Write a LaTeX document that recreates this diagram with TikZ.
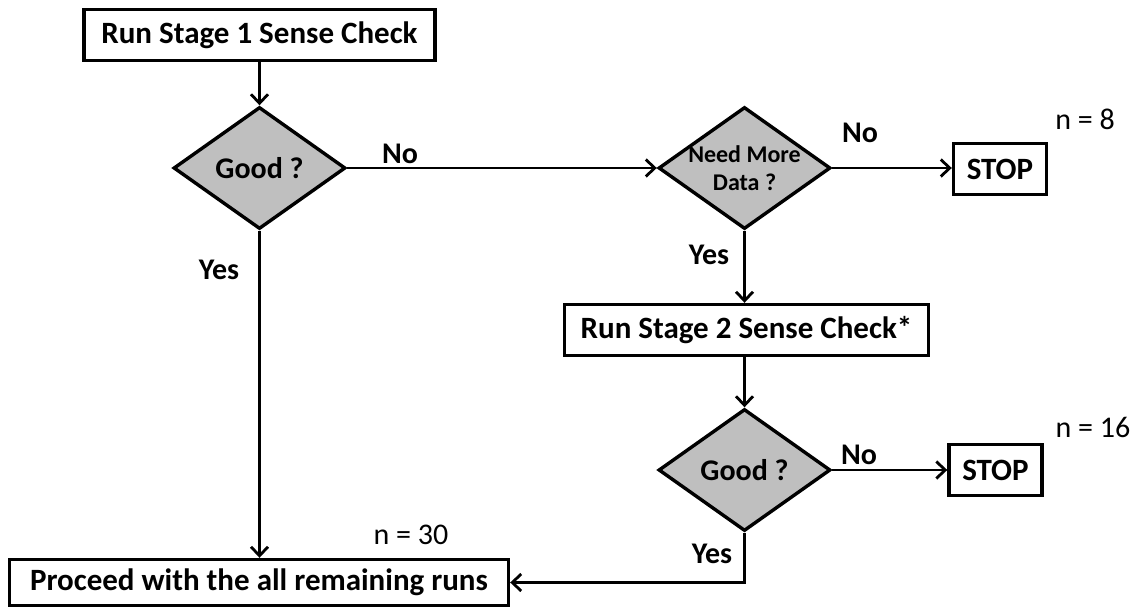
\documentclass[tikz,border=0pt]{standalone}
\usepackage{fontspec}
\setmainfont{Carlito}
\usetikzlibrary{shapes.geometric,arrows.meta}
\begin{document}
\begin{tikzpicture}[x=1pt,y=-1pt,
  box/.style={draw, line width=3.4pt, minimum width=#1, minimum height=51pt, inner sep=0pt,
    font=\fontsize{31}{36}\selectfont\bfseries},
  dec/.style={draw, diamond, fill=black!25, line width=3.4pt, minimum width=172pt,
    minimum height=122pt, inner sep=0pt, font=\fontsize{30}{34}\selectfont\bfseries},
  conn/.style={line width=2.8pt, -{Straight Barb[length=9pt,width=17pt]}},
  lbl/.style={font=\fontsize{30}{34}\selectfont\bfseries, inner sep=0pt},
  cnt/.style={font=\fontsize{30}{34}\selectfont, inner sep=0pt}]
\useasboundingbox (0,0) rectangle (1136,610);

\node[box=351pt] (s1) at (259.5,35) {Run Stage 1 Sense Check};
\node[dec] (g1) at (259.5,168) {Good ?};
\node[dec, label={[font=\fontsize{24}{28}\selectfont\bfseries, align=center, inner sep=0pt]center:Need More\\Data ?}] (nm) at (744.5,168) {};
\node[box=93pt] (stop1) at (1000,169) {STOP};
\node[box=364pt] (s2) at (746.5,330) {Run Stage 2 Sense Check*};
\node[dec] (g2) at (744.5,470) {Good ?};
\node[box=93pt] (stop2) at (995.5,470) {STOP};
\node[box=499pt, minimum height=46pt] (pr) at (259,582.5) {Proceed with the all remaining runs};

\draw[conn] (s1.south) -- (g1.north);
\draw[conn] (g1.east) -- (nm.west);
\draw[conn] (nm.east) -- (stop1.west |- nm.east);
\draw[conn] (nm.south) -- (nm.south |- s2.north);
\draw[conn] (nm.south |- s2.south) -- (g2.north);
\draw[conn] (g2.east) -- (stop2.west);
\draw[conn] (g1.south) -- (g1.south |- pr.north);
\draw[conn] (g2.south) |- (pr.east);

\node[lbl] (no1) at (400,154) {No};
\node[lbl] (yes1) at (219,270) {Yes};
\node[lbl] (no2) at (860,133) {No};
\node[lbl] (yes2) at (709,255) {Yes};
\node[lbl] (no3) at (859,455) {No};
\node[lbl] (yes3) at (712,554) {Yes};
\node[cnt] (n8) at (1085,119) {n = 8};
\node[cnt] (n16) at (1093,427) {n = 16};
\node[cnt] (n30) at (411,535) {n = 30};
\end{tikzpicture}
\end{document}
